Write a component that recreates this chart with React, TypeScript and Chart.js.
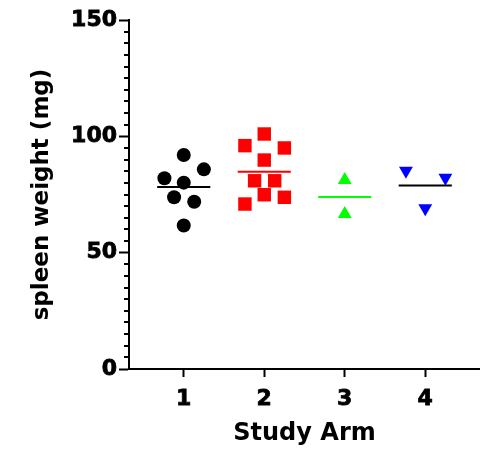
import React, { useEffect, useRef } from "react";
import { Chart, registerables } from "chart.js";

Chart.register(...registerables);

// ---- data ----
const ARM_POSITIONS = [1, 2, 3, 4];
const ARM_LABELS = ["1", "2", "3", "4"];
const Y_MAJOR_TICKS = [0, 50, 100, 150];
const Y_MINOR_STEP = 5;

const arm1Values = [92.0, 85.8, 82.0, 80.1, 73.8, 71.9, 61.7];
const arm1Jitter = [0, 0.25, -0.24, 0, -0.12, 0.13, 0];
const arm2Values = [101.0, 96.0, 95.0, 89.8, 80.9, 80.9, 74.9, 73.8, 70.9];
const arm2Jitter = [0, -0.24, 0.25, 0, -0.12, 0.13, 0, 0.25, -0.24];
const arm3Values = [81.2, 66.6];
const arm3Jitter = [0, 0];
const arm4Values = [85.2, 82.2, 69.1];
const arm4Jitter = [-0.24, 0.25, 0];

const X_TITLE = "Study Arm";
const Y_TITLE = "spleen weight (mg)";

const FONT = "'DejaVu Sans', 'Liberation Sans', Arial, sans-serif";
const MEAN_HALF_WIDTH = 0.33;

const mean = (a: number[]) => a.reduce((s, v) => s + v, 0) / a.length;

const minorTicksPlugin = {
  id: "minorTicks",
  afterDraw(chart: any) {
    const y = chart.scales.y;
    const ctx = chart.ctx;
    const left = chart.chartArea.left;
    ctx.save();
    ctx.strokeStyle = "#000";
    ctx.lineWidth = 2;
    for (let v = y.min; v <= y.max; v += Y_MINOR_STEP) {
      if (Y_MAJOR_TICKS.includes(v)) continue;
      const py = Math.round(y.getPixelForValue(v));
      ctx.beginPath();
      ctx.moveTo(left - 5, py);
      ctx.lineTo(left, py);
      ctx.stroke();
    }
    ctx.restore();
  },
};

export default function App() {
  const ref = useRef<HTMLCanvasElement>(null);

  useEffect(() => {
    if (!ref.current) return;
    const groups = [
      { vals: arm1Values, jit: arm1Jitter, color: "#000000", lineColor: "#000000", style: "circle", radius: 7, rotation: 0 },
      { vals: arm2Values, jit: arm2Jitter, color: "#ff0000", lineColor: "#ff0000", style: "rect", radius: 9.5, rotation: 0 },
      { vals: arm3Values, jit: arm3Jitter, color: "#00ff00", lineColor: "#00ff00", style: "triangle", radius: 8, rotation: 0 },
      { vals: arm4Values, jit: arm4Jitter, color: "#0000ff", lineColor: "#000000", style: "triangle", radius: 8, rotation: 180 },
    ];
    const datasets: any[] = [];
    groups.forEach((g, i) => {
      const c = ARM_POSITIONS[i];
      datasets.push({
        type: "scatter",
        data: g.vals.map((v, j) => ({ x: c + g.jit[j], y: v })),
        backgroundColor: g.color,
        borderColor: g.color,
        borderWidth: 0,
        pointStyle: g.style,
        pointRadius: g.radius,
        pointRotation: g.rotation,
        order: 2,
      });
      const m = mean(g.vals);
      datasets.push({
        type: "line",
        data: [
          { x: c - MEAN_HALF_WIDTH, y: m },
          { x: c + MEAN_HALF_WIDTH, y: m },
        ],
        borderColor: g.lineColor,
        borderWidth: 2,
        pointRadius: 0,
        fill: false,
        order: 1,
      });
    });

    const chart = new Chart(ref.current, {
      type: "scatter",
      data: { datasets },
      options: {
        responsive: false,
        animation: false,
        layout: { autoPadding: false, padding: { top: 20, right: 0, left: 0, bottom: 0 } },
        plugins: { legend: { display: false }, tooltip: { enabled: false } },
        scales: {
          x: {
            type: "linear",
            min: 0.32,
            max: 4.68,
            afterBuildTicks: (s: any) => {
              s.ticks = ARM_POSITIONS.map((v) => ({ value: v }));
            },
            afterFit: (s: any) => {
              s.height = 85;
              s.paddingLeft = 0;
              s.paddingRight = 0;
            },
            ticks: {
              callback: (v: any) => ARM_LABELS[ARM_POSITIONS.indexOf(Number(v))] ?? "",
              color: "#000",
              font: { family: FONT, size: 22, weight: "bold" },
              padding: 9,
              maxRotation: 0,
              textStrokeColor: "#000",
              textStrokeWidth: 0.8,
            },
            grid: {
              drawOnChartArea: false,
              drawTicks: true,
              tickLength: 8,
              tickWidth: 2,
              tickColor: "#000",
            },
            border: { display: true, color: "#000", width: 2 },
            title: {
              display: true,
              text: X_TITLE,
              color: "#000",
              font: { family: FONT, size: 24, weight: "bold" },
              padding: { top: 0, bottom: 6 },
            },
          },
          y: {
            type: "linear",
            min: 0,
            max: 150,
            afterBuildTicks: (s: any) => {
              s.ticks = Y_MAJOR_TICKS.map((v) => ({ value: v }));
            },
            afterFit: (s: any) => {
              s.width = 129;
            },
            ticks: {
              color: "#000",
              font: { family: FONT, size: 22, weight: "bold" },
              padding: 2,
              textStrokeColor: "#000",
              textStrokeWidth: 0.8,
            },
            grid: {
              drawOnChartArea: false,
              drawTicks: true,
              tickLength: 10,
              tickWidth: 2,
              tickColor: "#000",
            },
            border: { display: true, color: "#000", width: 2 },
            title: {
              display: true,
              text: Y_TITLE,
              color: "#000",
              font: { family: FONT, size: 23, weight: "bold" },
              padding: { top: 28, bottom: 0 },
            },
          },
        },
      },
      plugins: [minorTicksPlugin],
    } as any);
    return () => chart.destroy();
  }, []);

  return (
    <div style={{ position: "absolute", left: 0, top: 0, width: 480, height: 454, background: "#fff" }}>
      <canvas ref={ref} width={480} height={454} />
    </div>
  );
}
